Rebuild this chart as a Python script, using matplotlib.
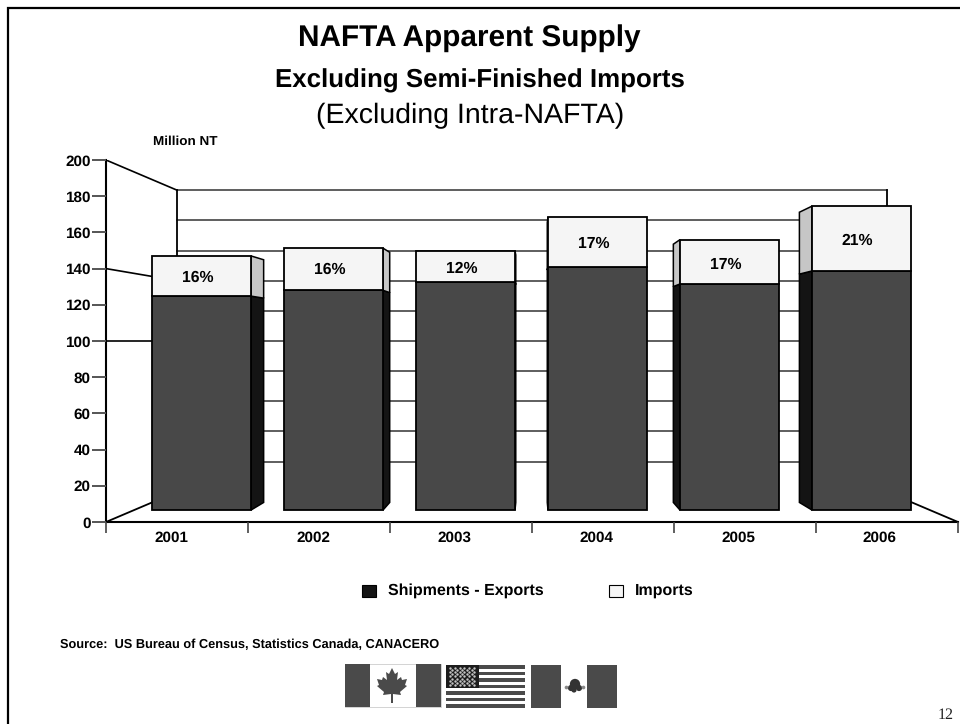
import matplotlib
matplotlib.use('Agg')
import matplotlib.pyplot as plt
from matplotlib.patches import Polygon, Rectangle

plt.rcParams['font.family'] = ['Liberation Sans', 'DejaVu Sans']
plt.rcParams['text.hinting'] = 'none'

# data
years = ['2001', '2002', '2003', '2004', '2005', '2006']
shipments = [124.8, 128.0, 132.6, 141.0, 131.5, 138.7]
totals = [147.0, 151.3, 149.8, 168.5, 156.0, 174.5]
shares = ['16%', '16%', '12%', '17%', '17%', '21%']
share_levels = [135.0, 139.5, 140.0, 153.8, 142.4, 155.2]
y_ticks = list(range(0, 201, 20))
wall_lines = [200, 140, 100]

W, H = 960, 724
DARK, DARK_SIDE = '#484848', '#141414'
LIGHT, LIGHT_SIDE = '#f5f5f5', '#c6c6c6'

# perspective numbers for the fake 3d box
BASE = 6.6        # bars stand a bit behind the front edge
BAR_W = 0.75
DEPTH_BAR = 0.045
DEPTH_WALL = 0.167
VX, VY = 2.504, 100.0

fig = plt.figure(figsize=(W / 100, H / 100), dpi=100)

# page layer in pixel coordinates
page = fig.add_axes([0, 0, 1, 1])
page.set_xlim(0, W)
page.set_ylim(H, 0)
page.axis('off')

# chart axes: 0-200 between y=522 and y=160, one category = 132 px
L, R, T, B = 106, 958, 160, 522
ax = fig.add_axes([L / W, 1 - B / H, (R - L) / W, (B - T) / H])
ax.set_xlim((L - 201.5) / 132, (R - 201.5) / 132)
ax.set_ylim(0, 200)
ax.patch.set_alpha(0)
for s in ['top', 'right']:
    ax.spines[s].set_visible(False)
for s in ['left', 'bottom']:
    ax.spines[s].set_linewidth(1.5)
    ax.spines[s].set_zorder(1)
ax.set_yticks(y_ticks)
ax.set_yticklabels([str(v) for v in y_ticks], fontsize=11, fontweight='bold')
ax.tick_params(axis='y', length=10, width=1.4, color='#555555', pad=1)
x0, x1 = ax.get_xlim()
ax.set_xticks([x0 + (x1 - x0) * k / 6 for k in range(7)])
ax.set_xticklabels([])
ax.tick_params(axis='x', length=8, width=1.2, color='#444444')


def back(x, y, d):
    return x + (VX - x) * d, y + (VY - y) * d


# walls and floor
bx0, by0 = back(x0, 0, DEPTH_WALL)
bx1, by1 = back(x1, 0, DEPTH_WALL)
_, ytop = back(x0, 200, DEPTH_WALL)
for v in y_ticks[1:]:
    _, yb = back(x0, v, DEPTH_WALL)
    ax.plot([bx0, bx1], [yb, yb], color='#333333', lw=1.1, zorder=1)
ax.plot([bx0, bx0], [by0, ytop], color='black', lw=1.3, zorder=1)
ax.plot([bx1, bx1], [by0, ytop], color='black', lw=1.3, zorder=1)
ax.plot([x0, bx0], [0, by0], color='black', lw=1.3, zorder=1)
ax.plot([x1, bx1], [0, by1], color='black', lw=1.3, zorder=1)
for v in wall_lines:
    xb, yb = back(x0, v, DEPTH_WALL)
    ax.plot([x0, xb], [v, yb], color='black', lw=1.2, zorder=1)

# bars
for i, year in enumerate(years):
    left, right = i - BAR_W / 2, i + BAR_W / 2
    # side face sits on the side away from the vanishing point axis
    near = right if i < VX else left
    for lo, hi, col in [(BASE, shipments[i], DARK_SIDE), (shipments[i], totals[i], LIGHT_SIDE)]:
        xb, ylo = back(near, lo, DEPTH_BAR)
        _, yhi = back(near, hi, DEPTH_BAR)
        ax.add_patch(Polygon([(near, lo), (xb, ylo), (xb, yhi), (near, hi)], closed=True,
                             facecolor=col, edgecolor='black', lw=1.1, zorder=3))
    ax.bar(i, shipments[i] - BASE, BAR_W, bottom=BASE, color=DARK, edgecolor='black', lw=1.3, zorder=4)
    ax.bar(i, totals[i] - shipments[i], BAR_W, bottom=shipments[i], color=LIGHT,
           edgecolor='black', lw=1.3, zorder=4)
    ax.text(i - 0.03, share_levels[i], shares[i], ha='center', va='center',
            fontsize=11.3, fontweight='bold', zorder=5)

# category labels
for k, year in enumerate(years):
    page.text(171.6 + 141.6 * k, 538, year, ha='center', va='center', fontsize=11, fontweight='bold')

# titles
page.text(469, 38.5, 'NAFTA Apparent Supply', ha='center', va='center', fontsize=21.4, fontweight='bold')
page.text(480, 81, 'Excluding Semi-Finished Imports', ha='center', va='center', fontsize=18.6, fontweight='bold')
page.text(470, 115.5, '(Excluding Intra-NAFTA)', ha='center', va='center', fontsize=20.5)
page.text(153, 141.5, 'Million NT', ha='left', va='center', fontsize=9.7, fontweight='bold')

# legend
page.add_patch(Rectangle((362, 584.5), 14, 12, facecolor=DARK_SIDE, edgecolor='black', lw=0.8))
page.text(388, 590.5, 'Shipments - Exports', ha='left', va='center', fontsize=11.5, fontweight='bold')
page.add_patch(Rectangle((609, 584.5), 14, 12, facecolor=LIGHT, edgecolor='black', lw=0.8))
page.text(635, 590.5, 'Imports', ha='left', va='center', fontsize=11.5, fontweight='bold')

page.text(60, 644.5, 'Source:  US Bureau of Census, Statistics Canada, CANACERO', ha='left', va='center',
          fontsize=9.2, fontweight='bold')
page.text(954, 715, '12', ha='right', va='center', fontsize=11.5, family='Liberation Serif', color='#222222')

# slide border
page.plot([8, 8, W], [H, 8, 8], color='black', lw=1.6, solid_joinstyle='miter')

# flags
FLAG = '#4a4a4a'
page.add_patch(Rectangle((345, 664), 96, 43, facecolor='white', edgecolor='#cccccc', lw=0.6))
page.add_patch(Rectangle((345, 664), 25, 43, facecolor=FLAG, lw=0))
page.add_patch(Rectangle((416, 664), 25, 43, facecolor=FLAG, lw=0))
leaf = [(392, 668), (395, 674), (398, 672), (397, 680), (401, 677), (402, 680), (407, 679), (405, 685),
        (407, 686), (400, 692), (401, 695), (393, 694), (393, 703), (391, 703), (391, 694), (383, 695),
        (384, 692), (377, 686), (379, 685), (377, 679), (382, 680), (383, 677), (387, 680), (386, 672),
        (389, 674)]
page.add_patch(Polygon(leaf, closed=True, facecolor=FLAG, edgecolor='none'))

for k in range(7):
    page.add_patch(Rectangle((446, 665 + k * 6.5), 79, 3.5, facecolor=FLAG, lw=0))
page.add_patch(Rectangle((446, 665), 33, 23, facecolor='#1c1c1c', lw=0))
for r in range(9):
    n = 6 if r % 2 == 0 else 5
    page.scatter([450 + c * 4.8 + (0 if r % 2 == 0 else 2.4) for c in range(n)], [667.5 + r * 2.2] * n,
                 s=3, color='#c4c4c4', linewidths=0, zorder=3)

page.add_patch(Rectangle((531, 665), 30, 43, facecolor=FLAG, lw=0))
page.add_patch(Rectangle((587, 665), 30, 43, facecolor=FLAG, lw=0))
page.scatter([575, 571, 579, 574], [684, 688, 688, 690], s=[55, 20, 20, 14], color='#333333', linewidths=0)
page.scatter([566, 583], [687, 687], s=7, color='#888888', linewidths=0)

fig.savefig('out.png', dpi=100)
